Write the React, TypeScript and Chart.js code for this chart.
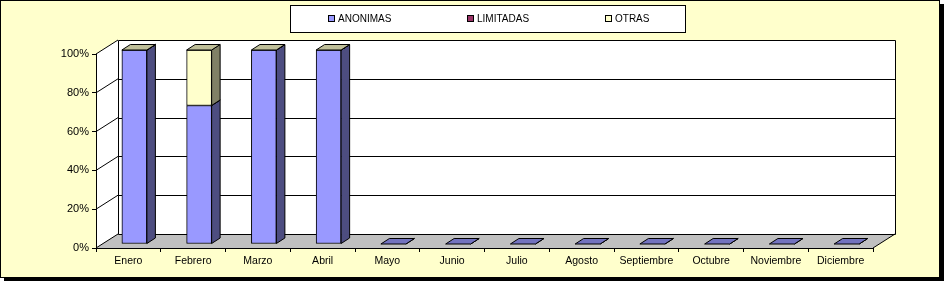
import { useEffect, useRef } from "react";
import { Chart, registerables } from "chart.js";
Chart.register(...registerables);

const categories = ["Enero", "Febrero", "Marzo", "Abril", "Mayo", "Junio", "Julio", "Agosto", "Septiembre", "Octubre", "Noviembre", "Diciembre"];
const anonimas: (number | null)[] = [100, 71.4, 100, 100, 0, 0, 0, 0, 0, 0, 0, 0];
const limitadas: (number | null)[] = [0, 0, 0, 0, null, null, null, null, null, null, null, null];
const otras: (number | null)[] = [0, 28.6, 0, 0, null, null, null, null, null, null, null, null];
const yTicks = [0, 20, 40, 60, 80, 100];
const seriesNames = ["ANONIMAS", "LIMITADAS", "OTRAS"];
const seriesColors = ["#9999FF", "#993366", "#FFFFCC"];
const sideColors = ["#4D4D80", "#4D1A33", "#808066"];
const topColors = ["#7373BF", "#732640", "#BFBF99"];

const FONT = "'Liberation Sans', Arial, sans-serif";
const WALL = { dx: 22, dy: -14 };
const BAR_OFF = { dx: 6, dy: -4 };
const BAR_DEPTH = { dx: 8.5, dy: -5.5 };

const px = (v: number) => Math.round(v) + 0.5;

const threeD = {
  id: "threeD",
  beforeDraw(chart: any) {
    const { ctx, chartArea: a, scales } = chart;
    const y = scales.y;
    ctx.save();
    // frame with shadow
    ctx.fillStyle = "#000";
    ctx.fillRect(4, 278, 940, 3);
    ctx.fillRect(940, 4, 4, 277);
    ctx.fillStyle = "#FFFFCC";
    ctx.fillRect(0, 0, 940, 278);
    ctx.strokeStyle = "#000";
    ctx.lineWidth = 1;
    ctx.strokeRect(0.5, 0.5, 939, 277);

    // legend box
    ctx.fillStyle = "#fff";
    ctx.fillRect(290, 5, 395, 27);
    ctx.strokeRect(290.5, 5.5, 395, 27);
    ctx.font = `10px ${FONT}`;
    ctx.textBaseline = "middle";
    ctx.textAlign = "left";
    seriesNames.forEach((name, i) => {
      const sx = Math.round(328 + i * 138.5);
      ctx.fillStyle = seriesColors[i];
      ctx.fillRect(sx, 15, 7, 7);
      ctx.strokeStyle = "#000";
      ctx.strokeRect(sx + 0.5, 15.5, 6, 6);
      ctx.fillStyle = "#000";
      ctx.fillText(name, sx + 10, 19);
    });

    const L = a.left, R = a.right, T = a.top, B = a.bottom;
    const bL = L + WALL.dx, bR = R + WALL.dx, bT = T + WALL.dy, bB = B + WALL.dy;
    // back wall
    ctx.fillStyle = "#fff";
    ctx.fillRect(bL, bT, bR - bL, bB - bT);
    // side wall
    ctx.beginPath();
    ctx.moveTo(L, T); ctx.lineTo(bL, bT); ctx.lineTo(bL, bB); ctx.lineTo(L, B); ctx.closePath();
    ctx.fill();
    // floor
    ctx.fillStyle = "#C0C0C0";
    ctx.beginPath();
    ctx.moveTo(L, B); ctx.lineTo(R, B); ctx.lineTo(bR, bB); ctx.lineTo(bL, bB); ctx.closePath();
    ctx.fill();

    ctx.strokeStyle = "#000";
    ctx.lineWidth = 1;
    // gridlines
    yTicks.forEach((v) => {
      const fy = y.getPixelForValue(v);
      const by = fy + WALL.dy;
      ctx.beginPath();
      ctx.moveTo(px(bL), px(by));
      ctx.lineTo(px(bR), px(by));
      ctx.stroke();
      ctx.beginPath();
      ctx.moveTo(L, fy);
      ctx.lineTo(bL, by);
      ctx.stroke();
    });
    // back wall verticals
    ctx.beginPath();
    ctx.moveTo(px(bL), px(bT)); ctx.lineTo(px(bL), px(bB));
    ctx.moveTo(px(bR), px(bT)); ctx.lineTo(px(bR), px(bB));
    ctx.stroke();
    // floor right edge
    ctx.beginPath();
    ctx.moveTo(R, B); ctx.lineTo(bR, bB);
    ctx.stroke();
    ctx.restore();
  },
  beforeDatasetsDraw(chart: any) {
    chart.ctx.save();
    chart.ctx.translate(BAR_OFF.dx, BAR_OFF.dy);
  },
  afterDatasetsDraw(chart: any) {
    const ctx = chart.ctx;
    ctx.restore();
    ctx.save();
    ctx.strokeStyle = "#000";
    ctx.lineWidth = 1;
    ctx.lineJoin = "miter";
    const n = chart.data.labels.length;
    for (let i = 0; i < n; i++) {
      const segs: { el: any; di: number }[] = [];
      chart.data.datasets.forEach((ds: any, di: number) => {
        if (ds.data[i] === null || ds.data[i] === undefined) return;
        const el = chart.getDatasetMeta(di).data[i];
        if (el) segs.push({ el, di });
      });
      segs.forEach(({ el, di }) => {
        const p = el.getProps(["x", "y", "base", "width"], true);
        const xr = p.x + p.width / 2 + BAR_OFF.dx;
        const top = Math.min(p.y, p.base) + BAR_OFF.dy;
        const bot = Math.max(p.y, p.base) + BAR_OFF.dy;
        ctx.fillStyle = sideColors[di];
        ctx.beginPath();
        ctx.moveTo(xr, top);
        ctx.lineTo(xr + BAR_DEPTH.dx, top + BAR_DEPTH.dy);
        ctx.lineTo(xr + BAR_DEPTH.dx, bot + BAR_DEPTH.dy);
        ctx.lineTo(xr, bot);
        ctx.closePath();
        ctx.fill();
        ctx.stroke();
      });
      const last = segs[segs.length - 1];
      if (last) {
        const p = last.el.getProps(["x", "y", "base", "width"], true);
        const xl = p.x - p.width / 2 + BAR_OFF.dx;
        const xr = p.x + p.width / 2 + BAR_OFF.dx;
        const top = Math.min(p.y, p.base) + BAR_OFF.dy;
        ctx.fillStyle = topColors[last.di];
        ctx.beginPath();
        ctx.moveTo(xl, top);
        ctx.lineTo(xr, top);
        ctx.lineTo(xr + BAR_DEPTH.dx, top + BAR_DEPTH.dy);
        ctx.lineTo(xl + BAR_DEPTH.dx, top + BAR_DEPTH.dy);
        ctx.closePath();
        ctx.fill();
        ctx.stroke();
      }
    }
    ctx.restore();
  },
};

export default function App() {
  const ref = useRef<HTMLCanvasElement>(null);
  useEffect(() => {
    document.body.style.margin = "0";
    const canvas = ref.current!;
    const mk = (label: string, data: (number | null)[], i: number) => ({
      label,
      data,
      backgroundColor: seriesColors[i],
      borderColor: "#000",
      borderWidth: 1,
      borderSkipped: false as const,
      barThickness: 25,
      clip: false as any,
    });
    const chart = new Chart(canvas, {
      type: "bar",
      data: {
        labels: categories,
        datasets: [mk(seriesNames[0], anonimas, 0), mk(seriesNames[1], limitadas, 1), mk(seriesNames[2], otras, 2)],
      },
      options: {
        responsive: false,
        animation: false,
        devicePixelRatio: 1,
        layout: { padding: { top: 54, right: 71, left: 0, bottom: 0 } },
        plugins: { legend: { display: false }, tooltip: { enabled: false } },
        scales: {
          x: {
            stacked: true,
            offset: true,
            grid: { display: true, drawOnChartArea: false, drawTicks: true, tickLength: 4, tickColor: "#000", offset: true },
            border: { display: true, color: "#000", width: 1 },
            ticks: { color: "#000", font: { family: FONT, size: 10.5 }, autoSkip: false, maxRotation: 0, padding: 3 },
            afterFit: (s: any) => { s.height = 33; },
          },
          y: {
            stacked: true,
            min: 0,
            max: 100,
            grid: { display: true, drawOnChartArea: false, drawTicks: true, tickLength: 4, tickColor: "#000" },
            border: { display: true, color: "#000", width: 1 },
            ticks: { stepSize: 20, color: "#000", font: { family: FONT, size: 11 }, padding: 3, callback: (v: any) => v + "%" },
            afterFit: (s: any) => { s.width = 96; },
          },
        },
      },
      plugins: [threeD],
    });
    return () => chart.destroy();
  }, []);
  return <canvas ref={ref} width={944} height={281} style={{ display: "block" }} />;
}
